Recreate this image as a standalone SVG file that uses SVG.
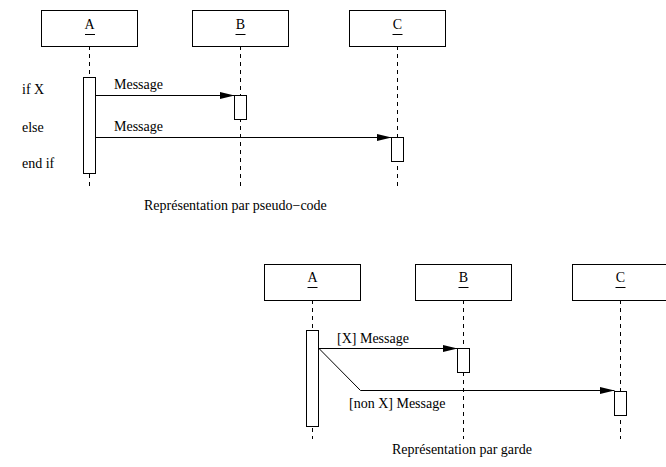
<svg xmlns="http://www.w3.org/2000/svg" width="666" height="467" viewBox="0 0 666 467">
<style>
.box{fill:#fff;stroke:#000;stroke-width:1}
.act{fill:#fff;stroke:#000;stroke-width:1}
.life{stroke:#000;stroke-width:1;stroke-dasharray:4,4;fill:none}
.msg{stroke:#000;stroke-width:1;fill:none}
.ul{stroke:#000;stroke-width:1}
text{font-family:"Liberation Serif","Times New Roman",serif;font-size:14px;fill:#000}
.c{text-anchor:middle}
</style>
<defs>
<marker id="ah" viewBox="0 0 15 7" refX="15" refY="3.5" markerWidth="15" markerHeight="7" markerUnits="userSpaceOnUse" orient="auto">
<path d="M0,0 L15,3.5 L0,7 Z" fill="#000"/>
</marker>
</defs>
<rect width="666" height="467" fill="#fff"/>
<g id="lifelines">
<line class="life" x1="89.5" y1="46" x2="89.5" y2="187"/>
<line class="life" x1="240.5" y1="46" x2="240.5" y2="187"/>
<line class="life" x1="397.5" y1="46" x2="397.5" y2="187"/>
<line class="life" x1="312.5" y1="300" x2="312.5" y2="439"/>
<line class="life" x1="463.5" y1="300" x2="463.5" y2="439"/>
<line class="life" x1="620.5" y1="300" x2="620.5" y2="439"/>
</g>
<g id="top-A">
<rect class="box" x="41.5" y="10.5" width="96" height="36"/>
<text class="c" x="89.5" y="29">A</text>
<line class="ul" x1="85" y1="34.5" x2="95" y2="34.5"/>
<rect class="act" x="83.5" y="77.5" width="12" height="96"/>
</g>
<g id="top-B">
<rect class="box" x="192.5" y="10.5" width="96" height="36"/>
<text class="c" x="240.5" y="29">B</text>
<line class="ul" x1="235.5" y1="34.5" x2="245.5" y2="34.5"/>
<rect class="act" x="234.5" y="95.5" width="12" height="24"/>
</g>
<g id="top-C">
<rect class="box" x="349.5" y="10.5" width="96" height="36"/>
<text class="c" x="397.5" y="29">C</text>
<line class="ul" x1="392.5" y1="34.5" x2="402.5" y2="34.5"/>
<rect class="act" x="391.5" y="137.5" width="12" height="24"/>
</g>
<g id="top-labels">
<text x="22" y="94">if X</text>
<text x="22" y="132">else</text>
<text x="22" y="168">end if</text>
<text x="114" y="89">Message</text>
<text x="114" y="131">Message</text>
<text x="144" y="210">Représentation par pseudo−code</text>
</g>
<g id="bot-A">
<rect class="box" x="264.5" y="264.5" width="96" height="36"/>
<text class="c" x="312.5" y="282">A</text>
<line class="ul" x1="307.5" y1="287.5" x2="317.5" y2="287.5"/>
<rect class="act" x="306.5" y="330.5" width="12" height="96"/>
</g>
<g id="bot-B">
<rect class="box" x="415.5" y="264.5" width="96" height="36"/>
<text class="c" x="463.5" y="282">B</text>
<line class="ul" x1="458.5" y1="287.5" x2="468.5" y2="287.5"/>
<rect class="act" x="457.5" y="348.5" width="12" height="24"/>
</g>
<g id="bot-C">
<rect class="box" x="572.5" y="264.5" width="96" height="36"/>
<text class="c" x="620.5" y="282">C</text>
<line class="ul" x1="615.5" y1="287.5" x2="625.5" y2="287.5"/>
<rect class="act" x="614.5" y="391.5" width="12" height="24"/>
</g>
<g id="connectors">
<line class="msg" x1="96" y1="95.5" x2="234.5" y2="95.5" marker-end="url(#ah)"/>
<line class="msg" x1="96" y1="137.5" x2="391.5" y2="137.5" marker-end="url(#ah)"/>
<line class="msg" x1="319" y1="348.5" x2="457.5" y2="348.5" marker-end="url(#ah)"/>
<polyline class="msg" points="319,348.5 360.5,390.5 614.5,390.5" marker-end="url(#ah)"/>
</g>
<g id="bot-labels">
<text x="337" y="343">[X] Message</text>
<text x="349" y="408">[non X] Message</text>
<text x="392" y="454">Représentation par garde</text>
</g>
</svg>
